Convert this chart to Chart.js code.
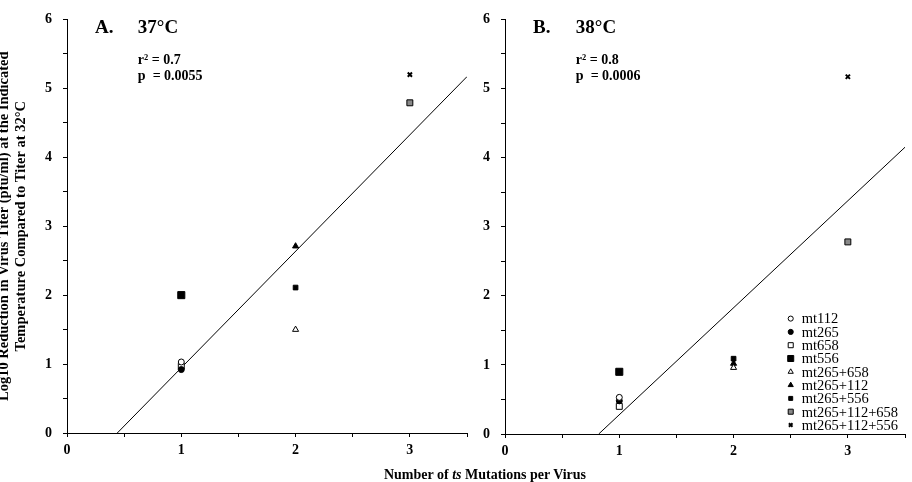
<!DOCTYPE html>
<html>
<head>
<meta charset="utf-8">
<script src="https://cdn.jsdelivr.net/npm/chart.js@4.4.1/dist/chart.umd.min.js"></script>
<style>
  html, body { margin: 0; padding: 0; background: #fff; }
  #wrap { position: relative; width: 912px; height: 482px; overflow: hidden; font-family: 'Liberation Serif', 'Times New Roman', serif; }
  #panelA { position: absolute; left: 0; top: 0; }
  #panelB { position: absolute; left: 475px; top: 0; }
  #xTitle { position: absolute; left: 0; top: 467px; width: 970px; text-align: center; font-size: 14px; font-weight: bold; line-height: 16px; color: #000; }
</style>
</head>
<body>
<div id="wrap">
  <canvas id="panelA" width="475" height="482"></canvas>
  <canvas id="panelB" width="437" height="482"></canvas>
  <div id="xTitle">Number of <i>ts</i> Mutations per Virus</div>
</div>
<script>
const seriesLabels = ['mt112', 'mt265', 'mt658', 'mt556', 'mt265+658', 'mt265+112', 'mt265+556', 'mt265+112+658', 'mt265+112+556'];
const mutationCounts = [1, 1, 1, 1, 2, 2, 2, 3, 3];
const reduction37 = [1.03, 0.92, 0.97, 2.0, 1.5, 2.71, 2.11, 4.79, 5.2];
const reduction38 = [0.53, 0.48, 0.4, 0.9, 0.96, 1.02, 1.09, 2.78, 5.17];

// regression line end points
const fit37X = [0.44, 3.5];
const fit37Y = [0, 5.17];
const fit38X = [0.82, 3.5];
const fit38Y = [0, 4.15];

const yTitleLines = ['Log10 Reduction in Virus Titer (pfu/ml) at the Indicated', 'Temperature Compared to Titer at 32°C'];

// marker look per series
const markers = [
  { style: 'circle', r: 3, fill: '#fff' },
  { style: 'circle', r: 3, fill: '#000' },
  { style: 'rect', r: 4.2, fill: '#fff' },
  { style: 'rect', r: 5, fill: '#000' },
  { style: 'triangle', r: 3.5, fill: '#fff' },
  { style: 'triangle', r: 3.5, fill: '#000' },
  { style: 'rect', r: 3.3, fill: '#000' },
  { style: 'rect', r: 4.2, fill: '#888' },
  { style: 'crossRot', r: 3, fill: '#000', bw: 2 },
];

const serif = "'Liberation Serif', 'Times New Roman', serif";
Chart.defaults.font.family = serif;
Chart.defaults.color = '#000';

function intLabel(v) {
  return Number.isInteger(v) ? v : '';
}

function textPlugin(cfg) {
  return {
    id: 'panelText',
    afterDraw(chart) {
      const { ctx, scales: { x, y } } = chart;
      ctx.save();
      ctx.fillStyle = '#000';
      ctx.textBaseline = 'middle';
      ctx.textAlign = 'left';
      ctx.font = `bold 19px ${serif}`;
      ctx.fillText(cfg.letter, x.getPixelForValue(0.245), y.getPixelForValue(5.88));
      ctx.fillText(cfg.temp, x.getPixelForValue(0.62), y.getPixelForValue(5.88));
      ctx.font = `bold 14px ${serif}`;
      ctx.fillText(cfg.r2, x.getPixelForValue(0.62), y.getPixelForValue(5.41));
      ctx.fillText(cfg.p, x.getPixelForValue(0.62), y.getPixelForValue(5.18));

      if (cfg.legend) {
        const mx = x.getPixelForValue(2.5);
        const tx = mx + 11;
        let ly = y.getPixelForValue(1.67);
        ctx.font = `14.5px ${serif}`;
        chart.data.datasets.forEach((ds) => {
          if (ds.isFit) return;
          ctx.fillStyle = ds.pointBackgroundColor;
          ctx.strokeStyle = '#000';
          ctx.lineWidth = ds.pointBorderWidth;
          Chart.helpers.drawPoint(ctx, {
            pointStyle: ds.pointStyle,
            radius: ds.pointRadius * 0.85,
            borderWidth: ds.pointBorderWidth,
            rotation: 0,
          }, mx, ly);
          ctx.fillStyle = '#000';
          ctx.fillText(ds.label, tx, ly + 1);
          ly += 13.3;
        });
      }
      ctx.restore();
    },
  };
}

function makePanel(canvasId, values, fitX, fitY, cfg) {
  const datasets = seriesLabels.map((label, i) => ({
    label,
    data: [{ x: mutationCounts[i], y: values[i] }],
    pointStyle: markers[i].style,
    pointRadius: markers[i].r,
    pointBackgroundColor: markers[i].fill,
    pointBorderColor: '#000',
    pointBorderWidth: markers[i].bw || 1,
  }));
  datasets.push({
    type: 'line',
    label: 'fit',
    isFit: true,
    data: fitX.map((v, i) => ({ x: v, y: fitY[i] })),
    borderColor: '#000',
    borderWidth: 1,
    pointRadius: 0,
    fill: false,
  });

  return new Chart(document.getElementById(canvasId), {
    type: 'scatter',
    data: { datasets },
    options: {
      responsive: false,
      animation: false,
      layout: { padding: cfg.padding },
      plugins: {
        legend: { display: false },
        tooltip: { enabled: false },
      },
      scales: {
        x: {
          type: 'linear',
          min: 0,
          max: 3.5,
          grid: { display: true, drawOnChartArea: false, drawTicks: true, tickLength: 4, color: '#000' },
          border: { display: true, color: '#000', width: 1 },
          ticks: { stepSize: 0.5, autoSkip: false, maxRotation: 0, padding: 5, callback: intLabel, font: { size: 14, weight: 'bold' } },
          afterFit: (scale) => { scale.height = 40; },
        },
        y: {
          min: 0,
          max: 6,
          grid: { display: true, drawOnChartArea: false, drawTicks: true, tickLength: 4, color: '#000' },
          border: { display: true, color: '#000', width: 1 },
          ticks: { stepSize: 0.5, autoSkip: false, padding: 11, callback: intLabel, font: { size: 14, weight: 'bold' } },
          title: {
            display: !!cfg.yTitle,
            text: cfg.yTitle || '',
            font: { size: 14.5, weight: 'bold', lineHeight: 1.15 },
            padding: { top: -4, bottom: 0 },
          },
          afterFit: (scale) => { scale.width = cfg.yWidth; },
        },
      },
    },
    plugins: [textPlugin(cfg)],
  });
}

makePanel('panelA', reduction37, fit37X, fit37Y, {
  letter: 'A.', temp: '37°C', r2: 'r² = 0.7', p: 'p  = 0.0055',
  yTitle: yTitleLines, yWidth: 67,
  padding: { left: 0, right: 8, top: 8, bottom: 9 },
});

makePanel('panelB', reduction38, fit38X, fit38Y, {
  letter: 'B.', temp: '38°C', r2: 'r² = 0.8', p: 'p  = 0.0006',
  yWidth: 30, legend: true,
  padding: { left: 0, right: 7, top: 9, bottom: 8 },
});
</script>
</body>
</html>
